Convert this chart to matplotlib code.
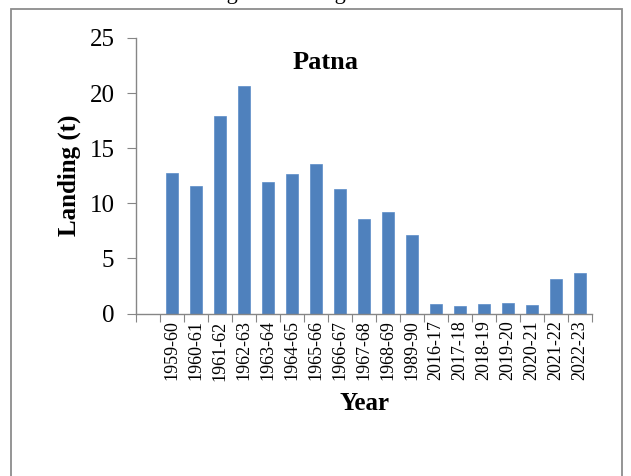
import numpy as np
import matplotlib.pyplot as plt
from matplotlib.patches import Rectangle

# landing data (first slot on the axis is left empty)
years = ["1959-60", "1960-61", "1961-62", "1962-63", "1963-64", "1964-65",
         "1965-66", "1966-67", "1967-68", "1968-69", "1989-90", "2016-17",
         "2017-18", "2018-19", "2019-20", "2020-21", "2021-22", "2022-23"]
landing = [12.73, 11.57, 17.96, 20.66, 11.96, 12.66, 13.57, 11.27, 8.57,
           9.24, 7.15, 0.82, 0.64, 0.82, 0.94, 0.73, 3.12, 3.64]

plt.rcParams['font.family'] = ['Liberation Serif', 'DejaVu Serif']

fig = plt.figure(figsize=(6.31, 4.76), dpi=100)
ax = fig.add_axes([136/631, 1-313.5/476, 456/631, 275.5/476])

n_slots = len(years) + 1
pos = np.arange(1, n_slots) + 0.5
ax.bar(pos, landing, width=0.48, color='#4F81BD', edgecolor='#5b8cc8', linewidth=0.5)

ax.set_xlim(0, n_slots)
ax.set_ylim(0, 25)
ax.set_yticks([0, 5, 10, 15, 20, 25])

# tick marks at slot boundaries, labels at slot centres
ax.set_xticks(np.arange(0, n_slots + 1))
ax.set_xticklabels([])
ax.set_xticks(pos, minor=True)
ax.set_xticklabels(years, minor=True, rotation=90, fontsize=13)
ax.tick_params(axis='x', which='minor', length=0, pad=5)
ax.tick_params(axis='x', which='major', length=6, color='#868686', direction='out')
ax.tick_params(axis='y', length=6.5, color='#868686', labelsize=18, pad=9)

for s in ['top', 'right']:
    ax.spines[s].set_visible(False)
for s in ['left', 'bottom']:
    ax.spines[s].set_color('#868686')
    ax.spines[s].set_linewidth(1.0)

ax.set_ylabel('Landing (t)', fontsize=18, fontweight='bold', labelpad=6)
ax.set_xlabel('Year', fontsize=18, fontweight='bold', labelpad=8)
ax.text(0.415, 0.91, 'Patna', transform=ax.transAxes, ha='center', va='center',
        fontsize=19, fontweight='bold')

# frame round the figure, bottom edge runs off the image
fig.add_artist(Rectangle((11/631, -0.05), 611/631, 1.05 - 9/476,
                         transform=fig.transFigure, fill=False,
                         edgecolor='#8c8c8c', linewidth=1.3))
# caption above the frame, cut off at the top edge (only the descenders show)
fig.text(208/631, 1 + 1.5/476, 'Fig. 3: Landing at Patna', fontsize=16,
         color='black', va='baseline', ha='left')

fig.savefig('out.png', dpi=100)
